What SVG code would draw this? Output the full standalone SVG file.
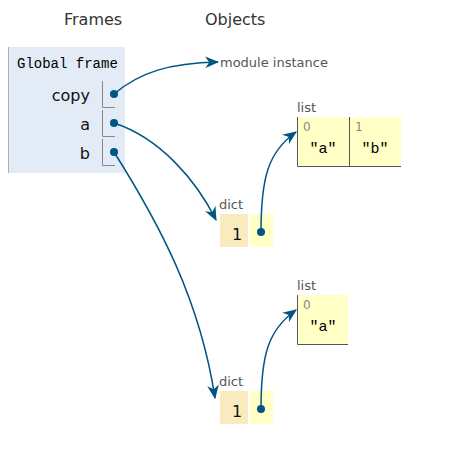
<svg xmlns="http://www.w3.org/2000/svg" width="455" height="455" viewBox="0 0 455 455">
<defs>
<marker id="ah" markerUnits="userSpaceOnUse" markerWidth="14" markerHeight="12" viewBox="0 0 12 10" refX="11" refY="5" orient="auto">
<path d="M0,0 L12,5 L0,10 L3.5,5 z" fill="#005583"/>
</marker>
<style>
.hdr{font-family:"DejaVu Sans",Verdana,sans-serif;font-size:16px;fill:#333}
.var{font-family:"DejaVu Sans",Verdana,sans-serif;font-size:16px;fill:#111;text-anchor:end}
.mono{font-family:"Liberation Mono","Courier New",monospace;font-size:14px;fill:#000}
.lbl{font-family:"DejaVu Sans",Verdana,sans-serif;font-size:13px;fill:#555}
.idx{font-family:"DejaVu Sans",Verdana,sans-serif;font-size:12px;fill:#888}
.num{font-family:"DejaVu Sans",Verdana,sans-serif;font-size:16px;fill:#111;text-anchor:middle}
.str{font-family:"Liberation Mono","Courier New",monospace;font-size:15px;fill:#000;text-anchor:middle}
.cell{fill:none;stroke:#888;stroke-width:1}
.dot{fill:#005583}
.conn path{fill:none;stroke:#005583;stroke-width:1.5;marker-end:url(#ah)}
.yel{fill:#ffffc6}
.key{fill:#faebbf}
.bd{stroke:#555;stroke-width:1;fill:none}
</style>
</defs>
<rect width="455" height="455" fill="#fff"/>
<text class="hdr" x="64" y="25">Frames</text>
<text class="hdr" x="205" y="25">Objects</text>

<g id="global-frame">
<rect x="8" y="47" width="117" height="126" fill="#e2ebf6"/>
<line x1="8.5" y1="47" x2="8.5" y2="173" stroke="#a6b3b6"/>
<text class="mono" x="17" y="68">Global frame</text>
<text class="var" x="90" y="101">copy</text>
<path class="cell" d="M102.5,81 V107.5 H115"/>
<circle class="dot" cx="114" cy="94" r="4"/>
<text class="var" x="90" y="130">a</text>
<path class="cell" d="M102.5,110 V136.5 H115"/>
<circle class="dot" cx="114" cy="123" r="4"/>
<text class="var" x="90" y="159">b</text>
<path class="cell" d="M102.5,139 V165.5 H115"/>
<circle class="dot" cx="114" cy="152" r="4"/>
</g>

<g id="module-instance">
<text class="lbl" x="220" y="67">module instance</text>
</g>

<g id="list1">
<text class="lbl" x="297" y="112">list</text>
<rect class="yel" x="297" y="117" width="104" height="50"/>
<path class="bd" d="M297.5,117 V166.5 H401"/>
<line class="bd" x1="349.5" y1="117" x2="349.5" y2="167"/>
<text class="idx" x="303" y="131">0</text>
<text class="str" x="323" y="153">"a"</text>
<text class="idx" x="355" y="131">1</text>
<text class="str" x="375" y="153">"b"</text>
</g>

<g id="dict1">
<text class="lbl" x="219" y="209">dict</text>
<rect class="key" x="220" y="214" width="28" height="33"/>
<rect class="yel" x="250" y="214" width="23" height="33"/>
<text class="num" x="237" y="240">1</text>
<circle class="dot" cx="261" cy="232" r="4"/>
</g>

<g id="list2">
<text class="lbl" x="297" y="290">list</text>
<rect class="yel" x="297" y="295" width="51" height="50"/>
<path class="bd" d="M297.5,295 V344.5 H348"/>
<text class="idx" x="303" y="309">0</text>
<text class="str" x="323" y="331">"a"</text>
</g>

<g id="dict2">
<text class="lbl" x="219" y="386">dict</text>
<rect class="key" x="220" y="391" width="28" height="33"/>
<rect class="yel" x="250" y="391" width="23" height="33"/>
<text class="num" x="237" y="417">1</text>
<circle class="dot" cx="261" cy="409" r="4"/>
</g>

<g id="connectors" class="conn">
<path d="M114,94 C140,72 170,63 218,62"/>
<path d="M114,123 C160,138 196,180 216,220"/>
<path d="M114,152 C160,225 200,300 215,398"/>
<path d="M261,232 C261,178 268,152 296,132"/>
<path d="M261,409 C261,355 268,330 296,310"/>
</g>
</svg>
